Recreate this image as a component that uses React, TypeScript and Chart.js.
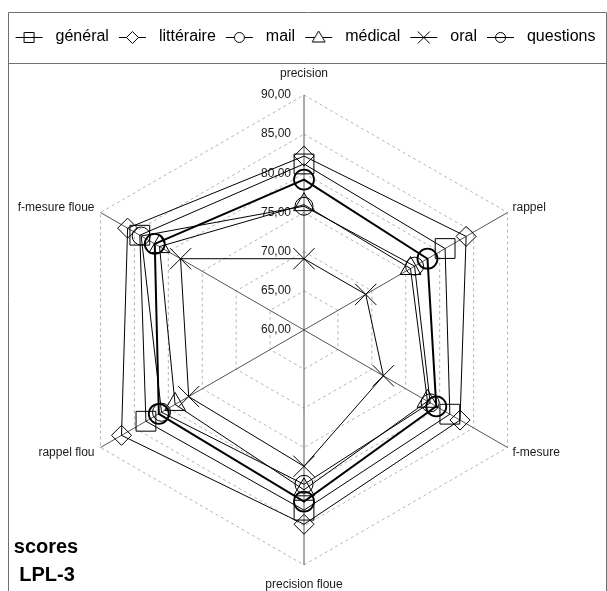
import React, { useEffect, useRef } from 'react';
import { Chart, registerables } from 'chart.js';

Chart.register(...registerables);

const axisLabels = ['precision', 'rappel', 'f-mesure', 'precision floue', 'rappel flou', 'f-mesure floue'];
const seriesNames = ['général', 'littéraire', 'mail', 'médical', 'oral', 'questions'];
const general = [81.2, 80.8, 81.5, 83.0, 83.3, 84.2];
const litteraire = [82.2, 83.9, 83.0, 84.8, 86.9, 86.0];
const mail = [75.8, 76.3, 78.6, 79.7, 81.0, 84.0];
const medical = [76.0, 75.7, 78.2, 80.4, 79.0, 81.3];
const oral = [69.1, 69.1, 71.7, 77.4, 77.0, 78.2];
const questions = [79.2, 78.2, 79.5, 81.9, 81.4, 82.0];
const tickValues = [60, 65, 70, 75, 80, 85, 90];
const tickLabels = ['60,00', '65,00', '70,00', '75,00', '80,00', '85,00', '90,00'];
const titleLines = ['scores', 'LPL-3'];

const FONT = '"Liberation Sans", Arial, sans-serif';

type Kind = 'square' | 'diamond' | 'circle' | 'triangle' | 'cross' | 'theta';
const kinds: Kind[] = ['square', 'diamond', 'circle', 'triangle', 'cross', 'theta'];

function makeIcon(kind: Kind): HTMLCanvasElement {
  const c = document.createElement('canvas');
  c.width = 36;
  c.height = 16;
  const g = c.getContext('2d')!;
  g.strokeStyle = '#000';
  g.lineWidth = 1;
  const cx = 17.5;
  const cy = 8.5;
  g.beginPath();
  g.moveTo(4, cy);
  g.lineTo(31, cy);
  g.stroke();
  g.fillStyle = '#fff';
  g.beginPath();
  if (kind === 'square') {
    g.rect(cx - 5, cy - 5, 10, 10);
    g.stroke();
  } else if (kind === 'diamond') {
    g.moveTo(cx, cy - 6);
    g.lineTo(cx + 6, cy);
    g.lineTo(cx, cy + 6);
    g.lineTo(cx - 6, cy);
    g.closePath();
    g.fill();
    g.stroke();
  } else if (kind === 'circle' || kind === 'theta') {
    g.arc(cx, cy, 5, 0, Math.PI * 2);
    if (kind === 'circle') g.fill();
    g.stroke();
  } else if (kind === 'triangle') {
    g.moveTo(cx, cy - 6.5);
    g.lineTo(cx + 6.5, cy + 4.5);
    g.lineTo(cx - 6.5, cy + 4.5);
    g.closePath();
    g.fill();
    g.stroke();
  } else if (kind === 'cross') {
    g.moveTo(cx - 6, cy - 6);
    g.lineTo(cx + 6, cy + 6);
    g.moveTo(cx + 6, cy - 6);
    g.lineTo(cx - 6, cy + 6);
    g.stroke();
  }
  return c;
}

const decorPlugin = {
  id: 'decor',
  beforeDraw(chart: any) {
    const ctx = chart.ctx;
    ctx.save();
    ctx.strokeStyle = '#707070';
    ctx.lineWidth = 1;
    ctx.beginPath();
    ctx.moveTo(8.5, 591);
    ctx.lineTo(8.5, 12.5);
    ctx.lineTo(606.5, 12.5);
    ctx.lineTo(606.5, 591);
    ctx.moveTo(8.5, 63.5);
    ctx.lineTo(606.5, 63.5);
    ctx.stroke();
    ctx.restore();
  },
  beforeDatasetsDraw(chart: any) {
    const ctx = chart.ctx;
    const scale = chart.scales.r;
    ctx.save();
    ctx.font = '12px ' + FONT;
    ctx.fillStyle = '#1a1a1a';
    ctx.textAlign = 'right';
    ctx.textBaseline = 'middle';
    tickValues.forEach((v, i) => {
      const d = scale.getDistanceFromCenterForValue(v);
      ctx.fillText(tickLabels[i], scale.xCenter - 13, scale.yCenter - d);
    });
    // point labels
    ctx.fillStyle = '#1a1a1a';
    axisLabels.forEach((lab, i) => {
      const p = scale.getPointPosition(i, scale.drawingArea);
      const dx = p.x - scale.xCenter;
      const dy = p.y - scale.yCenter;
      let x = p.x;
      let y = p.y;
      if (Math.abs(dx) < 1) {
        ctx.textAlign = 'center';
        y = dy < 0 ? p.y - 21 : p.y + 20;
      } else {
        ctx.textAlign = dx > 0 ? 'left' : 'right';
        x = dx > 0 ? p.x + 5 : p.x - 6;
        y = dy < 0 ? p.y - 5 : p.y + 5;
      }
      ctx.fillText(lab, x, y);
    });
    ctx.restore();
  },
  afterDraw(chart: any) {
    const ctx = chart.ctx;
    ctx.save();
    ctx.font = 'bold 20px ' + FONT;
    ctx.fillStyle = '#000';
    ctx.textAlign = 'center';
    ctx.textBaseline = 'middle';
    ctx.fillText(titleLines[0], 46, 547);
    ctx.fillText(titleLines[1], 47, 575);
    ctx.restore();
  },
};

export default function App() {
  const ref = useRef<HTMLCanvasElement>(null);

  useEffect(() => {
    const canvas = ref.current!;
    const icons = kinds.map((k) => makeIcon(k));
    const seriesData = [general, litteraire, mail, medical, oral, questions];
    const pointStyles = ['rect', 'rectRot', 'circle', 'triangle', 'crossRot', 'circle'];
    const pointRadii = [14, 10, 9, 12, 15, 10];
    const lineWidths = [1, 1, 1, 1, 1, 2];

    const chart = new Chart(canvas, {
      type: 'radar',
      data: {
        labels: axisLabels,
        datasets: seriesNames.map((name, i) => ({
          label: name,
          data: seriesData[i],
          borderColor: '#000',
          borderWidth: lineWidths[i],
          backgroundColor: 'rgba(0,0,0,0)',
          fill: false,
          tension: 0,
          pointStyle: pointStyles[i] as any,
          pointRadius: pointRadii[i],
          pointBorderColor: '#000',
          pointBorderWidth: lineWidths[i] === 2 ? 1.8 : 1,
          pointBackgroundColor: 'rgba(0,0,0,0)',
          clip: false as any,
        })),
      },
      options: {
        responsive: false,
        devicePixelRatio: 1,
        animation: false,
        events: [],
        layout: { padding: { top: 23, left: 0, right: 0, bottom: 0 } },
        plugins: {
          tooltip: { enabled: false },
          title: { display: false },
          legend: {
            display: true,
            position: 'top',
            align: 'center',
            labels: {
              usePointStyle: true,
              pointStyleWidth: 36,
              boxHeight: 16,
              padding: 6,
              color: '#000',
              font: { size: 16, family: FONT },
              generateLabels: () =>
                seriesNames.map((name, i) => ({
                  text: name,
                  fillStyle: '#fff',
                  strokeStyle: '#000',
                  lineWidth: 1,
                  pointStyle: icons[i] as any,
                  hidden: false,
                  datasetIndex: i,
                  fontColor: '#000',
                })),
            },
          },
        },
        scales: {
          r: {
            min: 60,
            max: 90,
            ticks: { stepSize: 5, display: false },
            pointLabels: { display: false },
            grid: { color: '#b5b5b5', lineWidth: 1 },
            border: { dash: [3, 3] } as any,
            angleLines: { color: '#555', lineWidth: 1 },
            afterFit: (scale: any) => {
              scale.xCenter = 304;
              scale.yCenter = 330;
              scale.drawingArea = 235;
            },
          } as any,
        },
      },
      plugins: [decorPlugin],
    });
    return () => chart.destroy();
  }, []);

  return (
    <div style={{ position: 'absolute', left: 0, top: 0, width: 607, height: 591, background: '#fff' }}>
      <canvas ref={ref} width={607} height={591} style={{ display: 'block', width: 607, height: 591 }} />
    </div>
  );
}
